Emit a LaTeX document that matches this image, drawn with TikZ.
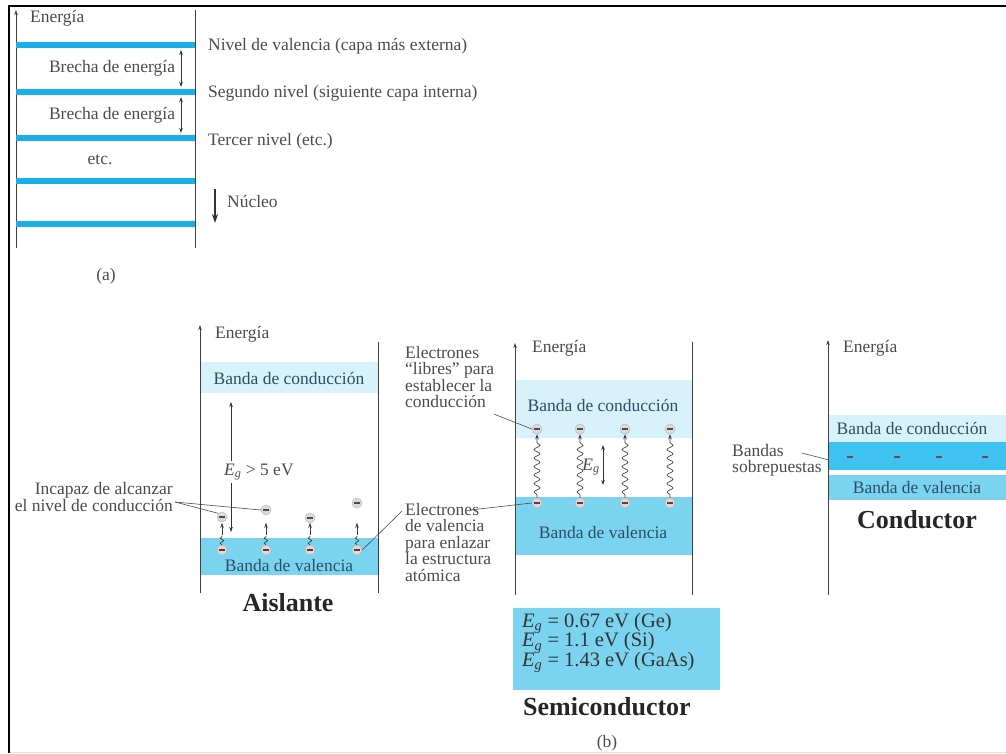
\documentclass[tikz,border=0pt]{standalone}
\usepackage{fontspec}
\setmainfont{Liberation Serif}
\usetikzlibrary{arrows.meta, positioning, calc, decorations.pathmorphing}

\definecolor{bandline}{RGB}{25, 175, 235}
\definecolor{condband}{RGB}{216, 242, 251}
\definecolor{valband}{RGB}{122, 212, 240}
\definecolor{overband}{RGB}{62, 194, 239}
\definecolor{bandtext}{RGB}{45, 78, 100}
\definecolor{labeltext}{RGB}{75, 75, 75}
\definecolor{elecbar}{RGB}{125, 45, 45}

\setlength{\lineskiplimit}{-30pt}
\newcommand{\Egap}{\textit{E}\textsubscript{\textit{g}}}

\tikzset{
  enaxis/.style={-{Stealth[length=5pt, width=3.5pt]}, black!75, line width=0.8pt},
  wall/.style={black!75, line width=0.8pt},
  lbl/.style={font=\fontsize{17.5}{16.5}\selectfont, text=labeltext, inner sep=0pt},
  bandlbl/.style={font=\fontsize{17.5}{18}\selectfont, text=bandtext, inner sep=0pt},
  bigtitle/.style={font=\fontsize{26}{28}\selectfont\bfseries, text=black!85, inner sep=0pt},
  shell/.style={bandline, line width=6pt},
  gaparrow/.style={{Stealth[length=5pt, width=3.5pt]}-{Stealth[length=5pt, width=3.5pt]}, black!80, line width=0.7pt},
  elec/.style={circle, fill=gray!28, draw=gray!55, line width=0.5pt, inner sep=0pt, minimum size=10pt,
    path picture={\draw[line width=1.9pt, #1]
      ([xshift=-3.4pt]path picture bounding box.center) -- ([xshift=3.4pt]path picture bounding box.center);}},
  elec/.default=black!70,
  edash/.style={rectangle, fill=elecbar!70!gray, minimum width=6pt, minimum height=2.6pt, inner sep=0pt},
  shortwave/.style={decorate, decoration={snake, amplitude=1.8pt, segment length=5pt}, black!75, line width=0.7pt},
  longwave/.style={decorate, decoration={snake, amplitude=3pt, segment length=8.5pt, pre length=3pt, post length=7pt},
    -{Stealth[length=5pt, width=3.5pt]}, black!75, line width=0.65pt},
  upshot/.style={-{Stealth[length=5pt, width=3.5pt]}, black!75, line width=0.8pt},
  pointer/.style={labeltext, line width=0.6pt},
}

\begin{document}
\begin{tikzpicture}[x=1pt, y=-1pt]
  \useasboundingbox (0,0) rectangle (1006,753);
  % marco
  \draw[line width=2.8pt] (9,753) -- (9,6) -- (1006,6);
  \draw[gray!25, line width=1pt] (10,752.5) -- (1006,752.5);

  % (a) niveles discretos
  \draw[enaxis] (16,248) -- (16,10);
  \draw[wall] (195,10) -- (195,248);
  \node[lbl, anchor=west] (ea) at (30,18) {Energía};
  \foreach \k/\y in {1/45, 2/92, 3/138, 4/181, 5/224}
    \draw[shell] (16,\y) -- (195,\y) coordinate (lv\k);
  \draw[gaparrow] ($(lv1)+(-14,5)$) -- ($(lv2)+(-14,-5)$);
  \draw[gaparrow] ($(lv2)+(-14,5)$) -- ($(lv3)+(-14,-5)$);
  \node[lbl] (gap1) at (112,68) {Brecha de energía};
  \node[lbl] (gap2) at (112,115) {Brecha de energía};
  \node[lbl] (etc) at (100,160) {etc.};
  \node[lbl, anchor=west] (nval) at (208,46) {Nivel de valencia (capa más externa)};
  \node[lbl, anchor=west] (nseg) at (208,93) {Segundo nivel (siguiente capa interna)};
  \node[lbl, anchor=west] (nter) at (208,141) {Tercer nivel (etc.)};
  \coordinate (nuc) at (215,189);
  \draw[-{Stealth[length=9pt, width=6pt]}, line width=1.8pt, black!80] (nuc) -- ++(0,34);
  \node[lbl, anchor=west] (nucl) at (227,201) {Núcleo};
  \node[lbl] (capa) at (106,276) {(a)};

  % (b) aislante
  \fill[condband] (200,362) rectangle (378,393);
  \fill[valband] (200,538) rectangle (378,575);
  \draw[enaxis] (200,593) -- (200,325);
  \draw[wall] (378,342) -- (378,593);
  \node[lbl, anchor=west] (ei) at (215,334) {Energía};
  \node[bandlbl] (ic) at (289,378) {Banda de conducción};
  \node[bandlbl] (iv) at (289,566) {Banda de valencia};
  \coordinate (igt) at (231,402);
  \coordinate (igb) at (231,532);
  \draw[gaparrow] (igb) -- (igt);
  \node[lbl, fill=white, anchor=west, inner ysep=3pt] (ieg) at (224,472) {\Egap\ > 5 eV};
  \foreach \i/\x/\y in {1/222/517, 2/266/510, 3/310/518, 4/357/503} {
    \node[elec] (it\i) at (\x,\y) {};
    \node[elec=elecbar] (ib\i) at (\x,550) {};
    \draw[shortwave] (ib\i.north) -- ++(0,-9);
    \draw[upshot] ($(ib\i.north)+(0,-10)$) -- ++(0,-12);
  }
  \node[lbl, align=right, anchor=east] (inc) at (173,497) {Incapaz de alcanzar\\el nivel de conducción};
  \draw[pointer] ($(inc.east)+(2,5)$) -- (it1.north west);
  \draw[pointer] ($(inc.east)+(2,5)$) -- (it2.west);
  \node[bigtitle] (ais) at (288,603) {Aislante};

  % (b) semiconductor
  \fill[condband] (515,380) rectangle (692,438);
  \fill[valband] (515,497) rectangle (692,555);
  \draw[enaxis] (515,595) -- (515,343);
  \draw[wall] (692,342) -- (692,595);
  \node[lbl, anchor=west] (es) at (532,348) {Energía};
  \node[bandlbl] (sc) at (603,405) {Banda de conducción};
  \node[bandlbl] (sv) at (603,533) {Banda de valencia};
  \foreach \i/\x in {1/537, 2/580, 3/625, 4/670} {
    \node[elec] (st\i) at (\x,429) {};
    \node[elec=elecbar] (sb\i) at (\x,503) {};
    \draw[longwave] (sb\i.north) -- (st\i.south);
  }
  \coordinate (sgt) at (603,445);
  \coordinate (sgb) at (603,485);
  \draw[gaparrow] (sgb) -- (sgt);
  \node[lbl, anchor=east] (sge) at (600,467) {\Egap};
  \node[lbl, align=left, anchor=north west] (libres) at (405,346) {Electrones\\“libres” para\\establecer la\\conducción};
  \draw[pointer] ($(libres.south east)+(0,6)$) -- (st1.west);
  \node[lbl, align=left, anchor=north west] (enl) at (405,503) {Electrones\\de valencia\\para enlazar\\la estructura\\atómica};
  \draw[pointer] ($(enl.north west)+(65,7)$) -- (sb1.west);
  \draw[pointer] (ib4.east) -- ($(enl.north west)+(-3,8)$);
  \fill[valband] (513,608) rectangle (720,690);
  \node[font=\fontsize{20.5}{19.5}\selectfont, text=black!80, align=left, anchor=north west, inner sep=0pt] (egtab) at (522,613)
    {\Egap\ = 0.67 eV (Ge)\\\Egap\ = 1.1 eV (Si)\\\Egap\ = 1.43 eV (GaAs)};
  \node[bigtitle] (semi) at (607,707) {Semiconductor};
  \node[lbl] (capb) at (607,743) {(b)};

  % (b) conductor
  \fill[condband] (828,415) rectangle (1006,442);
  \fill[overband] (828,442) rectangle (1006,470);
  \fill[valband] (828,475) rectangle (1006,500);
  \draw[enaxis] (828,595) -- (828,340);
  \node[lbl, anchor=west] (ec) at (843,348) {Energía};
  \node[bandlbl] (cc) at (912,428) {Banda de conducción};
  \node[bandlbl] (cv) at (917,488) {Banda de valencia};
  \foreach \i/\x in {1/850, 2/897, 3/939, 4/985}
    \node[edash] (cd\i) at (\x,457) {};
  \node[lbl, align=left, anchor=north west] (sobre) at (732,444) {Bandas\\sobrepuestas};
  \coordinate (ovl) at (829,460);
  \draw[pointer] ($(sobre.north east)+(-20,9)$) -- (ovl);
  \node[bigtitle] (cond) at (917,520) {Conductor};
\end{tikzpicture}
\end{document}
